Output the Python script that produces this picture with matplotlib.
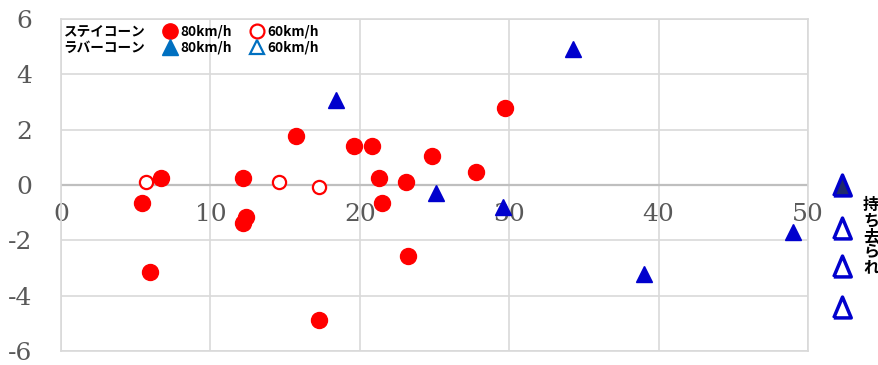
import matplotlib
matplotlib.use("Agg")
import matplotlib.pyplot as plt
from matplotlib.lines import Line2D

# Stay cone (red circles)
stay80_x = [29.7, 15.7, 19.6, 20.85, 24.8, 27.8, 6.7, 12.2, 21.3, 23.1, 5.4, 21.5, 12.4, 12.2, 5.95, 23.2, 17.25]
stay80_y = [2.77, 1.77, 1.41, 1.41, 1.06, 0.48, 0.26, 0.26, 0.26, 0.12, -0.66, -0.66, -1.15, -1.36, -3.16, -2.57, -4.88]
stay60_x = [5.7, 14.6, 17.25]
stay60_y = [0.12, 0.12, -0.08]

# Rubber cone (blue triangles)
rubber80_x = [18.4, 34.3, 25.1, 29.6, 39.0, 49.0]
rubber80_y = [3.07, 4.93, -0.29, -0.8, -3.22, -1.7]

# cones that were taken away, drawn beside the plot
removed_x = 52.3
removed80_y = [0.0]
removed60_y = [-1.55, -2.93, -4.41]

x_ticks = [0, 10, 20, 30, 40, 50]
y_ticks = [-6, -4, -2, 0, 2, 4, 6]

plt.rcParams['axes.unicode_minus'] = False
jp_font = ['Noto Sans CJK JP', 'DejaVu Sans']

fig = plt.figure(figsize=(8.79, 3.65), dpi=100)
ax = fig.add_axes([0.0694, 0.0384, 0.8498, 0.9096])

red = '#ff0000'
blue = '#0000cd'
legend_blue = '#0070c0'
grid_col = '#d9d9d9'
tick_col = '#595959'

ax.set_xlim(0, 50)
ax.set_ylim(-6, 6)
ax.set_xticks(x_ticks)
ax.set_yticks(y_ticks)
ax.grid(True, color=grid_col, linewidth=1.2)
ax.set_axisbelow(True)
ax.axhline(0, color='#bfbfbf', linewidth=1.6, zorder=1)
for sp in ax.spines.values():
    sp.set_color(grid_col)
    sp.set_linewidth(1.2)

ax.tick_params(axis='x', length=0, labelbottom=False)
ax.tick_params(axis='y', length=0, pad=21, labelsize=18, labelcolor=tick_col)
for lab in ax.get_yticklabels():
    lab.set_family('DejaVu Serif')

# x labels sit just under the zero line
sec = ax.secondary_xaxis(0.5)
sec.set_xticks(x_ticks)
sec.xaxis.set_ticks_position('bottom')
sec.tick_params(length=0, pad=13, labelsize=18, labelcolor=tick_col,
                labelbottom=True, labeltop=False)
for sp in sec.spines.values():
    sp.set_visible(False)
for lab in sec.get_xticklabels():
    lab.set_family('DejaVu Serif')

ax.plot(stay80_x, stay80_y, 'o', ms=11.5, color=red, mec=red, zorder=3)
ax.plot(stay60_x, stay60_y, 'o', ms=9.5, mfc='white', mec=red, mew=1.6, zorder=3)
ax.plot(rubber80_x, rubber80_y, '^', ms=12, color=blue, zorder=3)

tall_tri = [(-0.42, -0.5), (0.42, -0.5), (0, 0.5), (-0.42, -0.5)]
ax.plot([removed_x] * len(removed80_y), removed80_y, marker=tall_tri, ls='none', ms=15,
        mfc='#1f2a6b', mec=blue, mew=2.5, clip_on=False, zorder=3)
ax.plot([removed_x] * len(removed60_y), removed60_y, marker=tall_tri, ls='none', ms=15,
        mfc='white', mec=blue, mew=2.5, clip_on=False, zorder=3)

fig.text(0.991, 0.353, "\n".join("持ち去られ"), ha='center', va='center',
         fontsize=11.5, fontweight='bold', family=jp_font, linespacing=0.95)

# legend laid out as a 2x3 grid
blank = Line2D([], [], ls='none', marker=None)
handles = [
    blank, blank,
    Line2D([], [], ls='none', marker='o', ms=11, color=red),
    Line2D([], [], ls='none', marker='^', ms=11, color=legend_blue),
    Line2D([], [], ls='none', marker='o', ms=10, mfc='white', mec=red, mew=1.6),
    Line2D([], [], ls='none', marker='^', ms=10, mfc='white', mec=legend_blue, mew=1.6),
]
labels = ['ステイコーン', 'ラバーコーン', '80km/h', '80km/h', '60km/h', '60km/h']
ax.legend(handles, labels, ncol=3, loc='upper left', bbox_to_anchor=(-0.033, 1.012),
          frameon=False, handlelength=1.0, handletextpad=0.3, columnspacing=1.3,
          labelspacing=0.15, borderpad=0.2,
          prop={'family': jp_font, 'weight': 'bold', 'size': 9.8})

fig.savefig('out.png', dpi=100)
